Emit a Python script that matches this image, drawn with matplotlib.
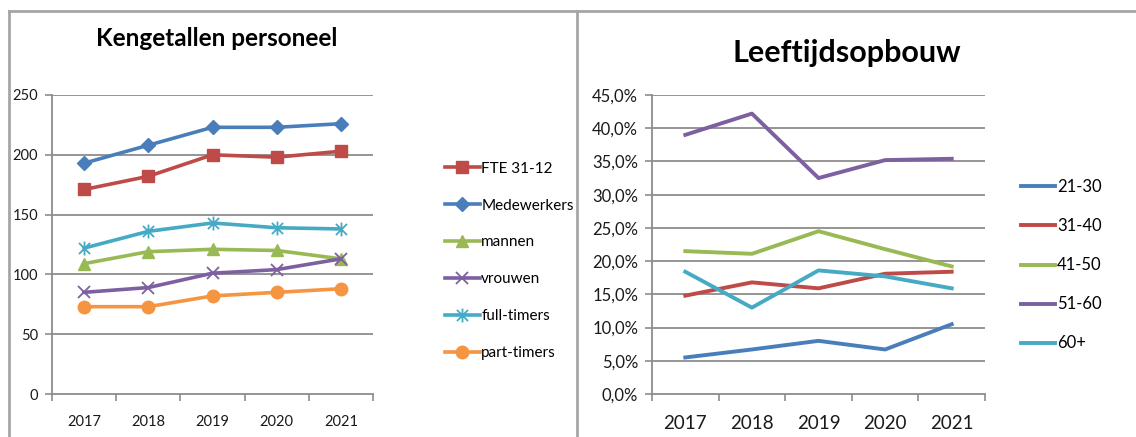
import matplotlib
matplotlib.use("Agg")
import matplotlib.pyplot as plt
from matplotlib.lines import Line2D
from matplotlib.path import Path
from matplotlib.ticker import FuncFormatter

plt.rcParams["font.family"] = ["Lato", "DejaVu Sans"]

years = ["2017", "2018", "2019", "2020", "2021"]

# Kengetallen personeel
fte = [171, 182, 200, 198, 203]
medewerkers = [193, 208, 223, 223, 226]
mannen = [109, 119, 121, 120, 113]
vrouwen = [85, 89, 101, 104, 113]
fulltimers = [122, 136, 143, 139, 138]
parttimers = [73, 73, 82, 85, 88]

# Leeftijdsopbouw (fractie)
age_21_30 = [0.055, 0.067, 0.080, 0.067, 0.105]
age_31_40 = [0.148, 0.168, 0.159, 0.181, 0.184]
age_41_50 = [0.215, 0.211, 0.245, 0.218, 0.192]
age_51_60 = [0.390, 0.422, 0.325, 0.352, 0.354]
age_60p = [0.184, 0.130, 0.186, 0.177, 0.159]

BLUE, RED, GREEN = "#4A7EBB", "#BE4B48", "#98B954"
PURPLE, CYAN, ORANGE = "#7D60A0", "#46AAC5", "#F59542"
GRID = "#8C8C8C"
FRAME = "#A6A6A6"
INK = "#1a1a1a"

# excel-style star: vertical stroke plus an x
STAR = Path(
    [(0, -1), (0, 1), (-0.8, -0.8), (0.8, 0.8), (-0.8, 0.8), (0.8, -0.8)],
    [Path.MOVETO, Path.LINETO, Path.MOVETO, Path.LINETO, Path.MOVETO, Path.LINETO],
)

W, H = 1136, 437
fig = plt.figure(figsize=(W / 100, H / 100), dpi=100)


def px_axes(x0, x1, ytop, ybot):
    return fig.add_axes([x0 / W, 1 - ybot / H, (x1 - x0) / W, (ybot - ytop) / H])


def style_axes(ax, ymax, step, fmt, xsize, ysize):
    n = len(years)
    ax.set_xlim(-0.5, n - 0.5)
    ax.set_ylim(0, ymax)
    yt = [i * step for i in range(int(round(ymax / step)) + 1)]
    ax.set_yticks(yt)
    ax.yaxis.set_major_formatter(FuncFormatter(fmt))
    ax.set_xticks(range(n))
    ax.set_xticklabels(years)
    ax.set_xticks([i - 0.5 for i in range(n + 1)], minor=True)
    ax.tick_params(axis="x", which="major", length=0, pad=15, labelsize=xsize, colors=INK)
    ax.tick_params(axis="x", which="minor", length=5, width=1.2, color=GRID, direction="out")
    ax.tick_params(axis="y", length=5, width=1.2, color=GRID, pad=5, labelsize=ysize, labelcolor=INK)
    for y in yt[1:]:
        ax.axhline(y, color=GRID, lw=1.3, zorder=0)
    for s in ("top", "right"):
        ax.spines[s].set_visible(False)
    for s in ("left", "bottom"):
        ax.spines[s].set_color(GRID)
        ax.spines[s].set_linewidth(1.3)


# left panel
ax1 = px_axes(52, 373, 95, 394)
x = range(len(years))
lw = 2.6
ax1.plot(x, fte, color=RED, lw=lw, marker="s", ms=9, label="FTE 31-12", zorder=3)
ax1.plot(x, medewerkers, color=BLUE, lw=lw, marker="D", ms=7.5, label="Medewerkers", zorder=3)
ax1.plot(x, mannen, color=GREEN, lw=lw, marker="^", ms=9, label="mannen", zorder=3)
ax1.plot(x, vrouwen, color=PURPLE, lw=lw, marker="x", ms=9, mew=1.3, label="vrouwen", zorder=3)
ax1.plot(x, fulltimers, color=CYAN, lw=lw, marker=STAR, ms=10, mew=1.3, label="full-timers", zorder=3)
ax1.plot(x, parttimers, color=ORANGE, lw=lw, marker="o", ms=9, label="part-timers", zorder=3)
style_axes(ax1, 250, 50, lambda v, p: f"{v:.0f}", 10.5, 10.5)
fig.text(217 / W, 1 - 39 / H, "Kengetallen personeel", ha="center", va="center",
         fontsize=17.5, fontweight="bold", color="black")
fig.legend(*ax1.get_legend_handles_labels(), loc="upper left",
           bbox_to_anchor=(437 / W, 1 - 154 / H), frameon=False, fontsize=11,
           handlelength=2.3, handletextpad=0.1, labelspacing=1.5, borderpad=0)

# right panel
ax2 = px_axes(652, 985, 95, 394)
lw2 = 2.8
ax2.plot(x, age_21_30, color=BLUE, lw=lw2, label="21-30")
ax2.plot(x, age_31_40, color=RED, lw=lw2, label="31-40")
ax2.plot(x, age_41_50, color=GREEN, lw=lw2, label="41-50")
ax2.plot(x, age_51_60, color=PURPLE, lw=lw2, label="51-60")
ax2.plot(x, age_60p, color=CYAN, lw=lw2, label="60+")
style_axes(ax2, 0.45, 0.05, lambda v, p: f"{v * 100:.1f}%".replace(".", ","), 13.5, 12)
fig.text(847 / W, 1 - 53 / H, "Leeftijdsopbouw", ha="center", va="center",
         fontsize=22, fontweight="bold", color="black")
fig.legend(*ax2.get_legend_handles_labels(), loc="upper left",
           bbox_to_anchor=(1013 / W, 1 - 171 / H), frameon=False, fontsize=12,
           handlelength=2.0, handletextpad=0.15, labelspacing=1.38, borderpad=0)

# panel frames
frame_kw = dict(color=FRAME, lw=2, transform=fig.transFigure)
fig.add_artist(Line2D([9 / W, 1], [1 - 11 / H] * 2, **frame_kw))
fig.add_artist(Line2D([9 / W, 9 / W], [0, 1 - 11 / H], **frame_kw))
fig.add_artist(Line2D([577 / W, 577 / W], [0, 1 - 11 / H], **frame_kw))

fig.savefig("out.png", dpi=100)
